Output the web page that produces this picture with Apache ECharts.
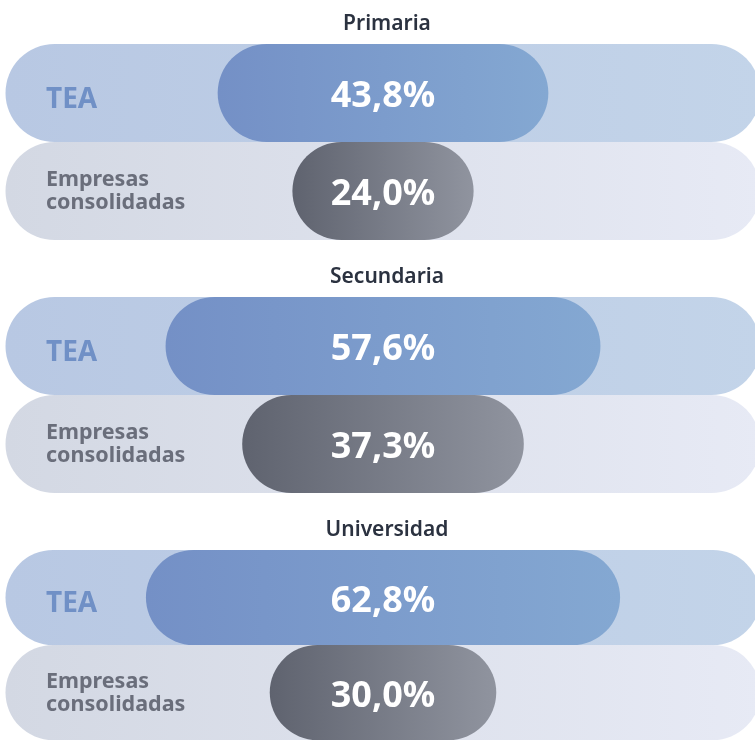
<!DOCTYPE html>
<html>
<head>
<meta charset="utf-8">
<script src="https://cdn.jsdelivr.net/npm/echarts@6/dist/echarts.min.js"></script>
<style>
  html, body { margin: 0; padding: 0; background: #ffffff; }
  #chart { width: 755px; height: 740px; }
</style>
</head>
<body>
<div id="chart"></div>
<script>
// Education levels, row labels and percentages
const levels = ['Primaria', 'Secundaria', 'Universidad'];
const rowLabels = ['TEA', 'Empresas consolidadas'];
const teaValues = [43.8, 57.6, 62.8];
const consolidatedValues = [24.0, 37.3, 30.0];
// Track spans -50..50 around the centre; the right end runs off the canvas
const trackExtent = [-50, 50];
const axisMin = -50;
const axisMax = 49.27;

const FONT = '"Noto Sans", "Open Sans", sans-serif';

const chart = echarts.init(document.getElementById('chart'), null, { renderer: 'canvas' });

const gridTops = [44, 297, 550];
const rowHeight = 98;

function grad(stops) {
  return new echarts.graphic.LinearGradient(0, 0, 1, 0, [
    { offset: 0, color: stops[0] },
    { offset: 1, color: stops[1] }
  ]);
}

const bgColors = [['#b8c8e3', '#c3d4e9'], ['#d3d8e3', '#e7eaf5']];
const pillColors = [['#7490c6', '#84a8d2'], ['#5f636f', '#90949f']];

function fmt(v) {
  return v.toFixed(1).replace('.', ',') + '%';
}

// Full-width track behind each row
function renderTrack(params, api) {
  const cat = api.value(0);
  const a = api.coord([trackExtent[0], cat]);
  const b = api.coord([trackExtent[1], cat]);
  const h = api.size([0, 1])[1];
  return {
    type: 'rect',
    shape: { x: a[0], y: a[1] - h / 2, width: b[0] - a[0], height: h, r: h / 2 },
    style: { fill: grad(bgColors[cat]) }
  };
}

// Centred pill whose width is the percentage
function renderPill(params, api) {
  const cat = api.value(0);
  const v = api.value(1);
  const a = api.coord([-v / 2, cat]);
  const b = api.coord([v / 2, cat]);
  const c = api.coord([0, cat]);
  const h = api.size([0, 1])[1];
  return {
    type: 'group',
    children: [
      {
        type: 'rect',
        shape: { x: a[0], y: a[1] - h / 2, width: b[0] - a[0], height: h, r: h / 2 },
        style: { fill: grad(pillColors[cat]) }
      },
      {
        type: 'text',
        x: c[0], y: c[1] + 4,
        style: {
          text: fmt(v), fill: '#ffffff',
          font: 'bold 36px ' + FONT,
          align: 'center', verticalAlign: 'middle'
        }
      }
    ]
  };
}

const grids = [], xAxes = [], yAxes = [], titles = [], series = [];
levels.forEach((lvl, i) => {
  grids.push({ left: 5.5, right: 0, top: gridTops[i], height: rowHeight * 2, containLabel: false });
  titles.push({
    text: lvl, left: 382, top: gridTops[i] - 35, textAlign: 'center',
    textStyle: { fontFamily: FONT, fontSize: 21, fontWeight: 600, color: '#2b3240' }
  });
  xAxes.push({
    type: 'value', gridIndex: i, min: axisMin, max: axisMax,
    show: false
  });
  yAxes.push({
    type: 'category', gridIndex: i, data: rowLabels, inverse: true, z: 10,
    axisLine: { show: false }, axisTick: { show: false }, splitLine: { show: false },
    axisLabel: {
      inside: true, margin: 40.5,
      formatter: (val) => val === 'TEA' ? '{tea|' + val + '}'
        : val.split(' ').map(w => '{emp|' + w + '}').join('\n'),
      rich: {
        tea: { fontFamily: FONT, fontSize: 28, fontWeight: 'bold', color: '#7090c6', padding: [14, 0, 0, 0] },
        emp: { fontFamily: FONT, fontSize: 21.5, fontWeight: 'bold', color: '#6a6e7b', lineHeight: 23, padding: [1, 0, 0, 0] }
      }
    }
  });
  series.push({
    type: 'custom', xAxisIndex: i, yAxisIndex: i, z: 1, clip: false,
    renderItem: renderTrack, encode: { x: 1, y: 0 },
    data: rowLabels.map((_, r) => [r, 0]), silent: true
  });
  series.push({
    type: 'custom', xAxisIndex: i, yAxisIndex: i, z: 3, clip: false,
    renderItem: renderPill, encode: { x: 1, y: 0 },
    data: [[0, teaValues[i]], [1, consolidatedValues[i]]], silent: true
  });
});

chart.setOption({
  animation: false,
  title: titles,
  grid: grids,
  xAxis: xAxes,
  yAxis: yAxes,
  series: series
});
</script>
</body>
</html>
